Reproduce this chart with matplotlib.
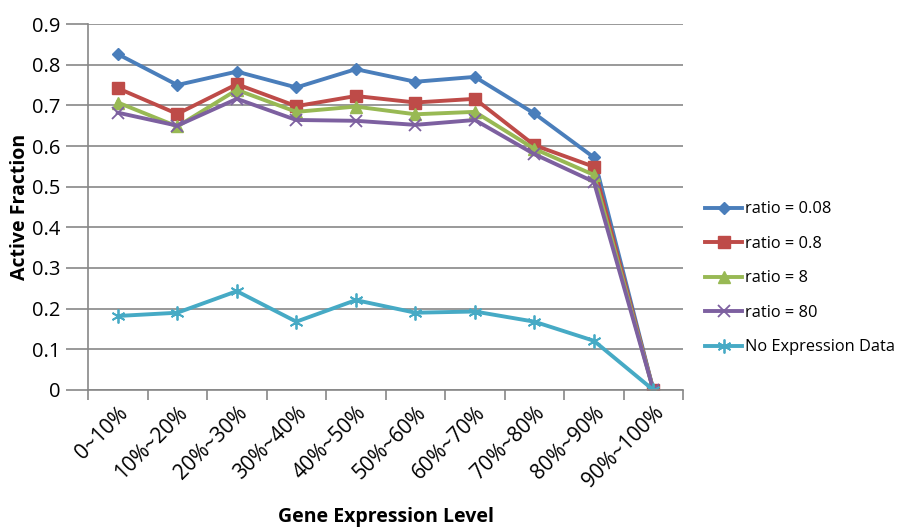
import matplotlib
matplotlib.use("Agg")
import matplotlib.pyplot as plt
import numpy as np

categories = ["0~10%", "10%~20%", "20%~30%", "30%~40%", "40%~50%",
              "50%~60%", "60%~70%", "70%~80%", "80%~90%", "90%~100%"]
ratio_008 = [0.826, 0.750, 0.783, 0.744, 0.789, 0.758, 0.770, 0.680, 0.572, 0.0]
ratio_08 = [0.742, 0.679, 0.752, 0.698, 0.723, 0.707, 0.716, 0.602, 0.549, 0.0]
ratio_8 = [0.707, 0.648, 0.738, 0.684, 0.697, 0.678, 0.684, 0.593, 0.529, 0.0]
ratio_80 = [0.682, 0.650, 0.716, 0.664, 0.662, 0.652, 0.664, 0.580, 0.512, 0.0]
no_expr = [0.182, 0.190, 0.243, 0.168, 0.221, 0.190, 0.193, 0.168, 0.121, 0.0]
series_labels = ["ratio = 0.08", "ratio = 0.8", "ratio = 8", "ratio = 80", "No Expression Data"]
y_ticks = [0.0, 0.1, 0.2, 0.3, 0.4, 0.5, 0.6, 0.7, 0.8, 0.9]

plt.rcParams['font.family'] = ['Open Sans', 'DejaVu Sans']

fig = plt.figure(figsize=(9.03, 5.28), dpi=100)
ax = fig.add_axes([0.0975, 0.2614, 0.659, 0.6931])

x = np.arange(len(categories))
styles = [
    dict(color="#4A7EBB", marker="D", markersize=6.5),
    dict(color="#BE4B48", marker="s", markersize=8),
    dict(color="#98B954", marker="^", markersize=8),
    dict(color="#7D60A0", marker="x", markersize=8, markeredgewidth=1.3),
    dict(color="#46AAC5", marker=(6, 2, 0), markersize=10, markeredgewidth=1.3),
]
for vals, lab, st in zip([ratio_008, ratio_08, ratio_8, ratio_80, no_expr], series_labels, styles):
    ax.plot(x, vals, linewidth=2.8, label=lab, **st)

ax.set_xlim(-0.5, len(categories) - 0.5)
ax.set_ylim(0, 0.9)
ax.set_yticks(y_ticks)
ax.set_yticklabels(["0"] + [f"{v:.1f}" for v in y_ticks[1:]], fontsize=14.5)
ax.grid(axis="y", color="#878787", linewidth=1.2)
ax.set_axisbelow(True)

ax.set_xticks(x)
ax.set_xticklabels(categories, rotation=45, ha="right", rotation_mode="anchor", fontsize=15)
ax.tick_params(axis="x", which="major", length=0, pad=9)
ax.set_xticks(np.arange(-0.5, len(categories), 1.0), minor=True)
ax.tick_params(axis="x", which="minor", length=7, color="#878787", width=1.2, direction="out")
ax.tick_params(axis="y", length=16, color="#878787", width=1.2, pad=4)

for s in ["top", "right"]:
    ax.spines[s].set_visible(False)
for s in ["left", "bottom"]:
    ax.spines[s].set_color("#878787")
    ax.spines[s].set_linewidth(1.2)

ax.set_ylabel("Active Fraction", fontsize=14, fontweight="bold", labelpad=1)
fig.text(0.427, 0.02, "Gene Expression Level", fontsize=14, fontweight="bold", ha="center", va="center")

leg = ax.legend(loc="center left", bbox_to_anchor=(1.017, 0.305), frameon=False, fontsize=11.8,
                handlelength=2.3, handletextpad=0.15, labelspacing=1.13, borderaxespad=0.3)

fig.savefig("out.png", dpi=100)
